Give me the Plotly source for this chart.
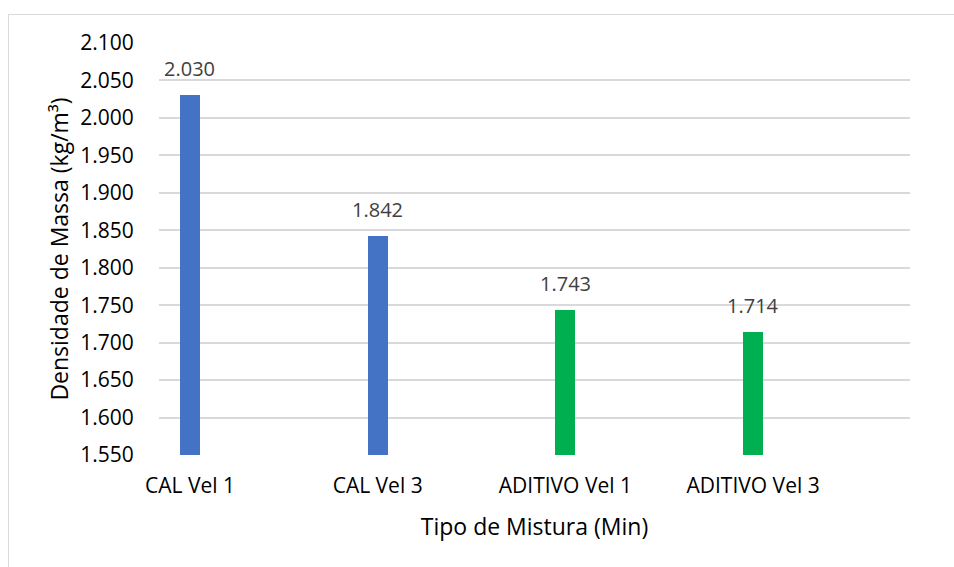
import plotly.graph_objects as go

# Dados do ensaio
categorias = ["CAL Vel 1", "CAL Vel 3", "ADITIVO Vel 1", "ADITIVO Vel 3"]
densidade = [2030, 1842, 1743, 1714]
cores = ["#4472C4", "#4472C4", "#00B050", "#00B050"]
rotulos = ["2.030", "1.842", "1.743", "1.714"]
y_ticks = [1550, 1600, 1650, 1700, 1750, 1800, 1850, 1900, 1950, 2000, 2050, 2100]

W, H = 954, 567
L, R, T, B = 159, 44, 43, 112
pw, ph = W - L - R, H - T - B

FONT = "Open Sans"

fig = go.Figure()
fig.add_trace(go.Bar(
    x=list(range(len(categorias))),
    y=densidade,
    marker=dict(color=cores, line=dict(width=0)),
    width=0.107,
    showlegend=False,
))

# Rótulos de dados acima das barras
for i, (v, t) in enumerate(zip(densidade, rotulos)):
    fig.add_annotation(
        x=i, y=v, text=t, showarrow=False, yanchor="bottom",
        yshift=11, font=dict(family=FONT, size=20, color="#404040"),
    )

def px_x(p):
    return (p - L) / pw

def px_y(p):
    return (H - B - p) / ph

# Moldura da área do gráfico
border = dict(color="#D9D9D9", width=1)
fig.add_shape(type="line", xref="paper", yref="paper",
              x0=px_x(8), x1=px_x(960), y0=px_y(14.5), y1=px_y(14.5), line=border)
fig.add_shape(type="line", xref="paper", yref="paper",
              x0=px_x(8.5), x1=px_x(8.5), y0=px_y(14), y1=px_y(570), line=border)

fig.update_layout(
    width=W, height=H,
    margin=dict(l=L, r=R, t=T, b=B),
    paper_bgcolor="white", plot_bgcolor="white",
    separators=",.",
    font=dict(family=FONT, size=21, color="#000000"),
    bargap=0,
    xaxis=dict(
        range=[-0.165, 3.836],
        tickmode="array",
        tickvals=list(range(len(categorias))),
        ticktext=categorias,
        ticks="outside", ticklen=12, tickcolor="rgba(0,0,0,0)",
        showgrid=False, zeroline=False, showline=False,
        tickfont=dict(family=FONT, size=21, color="#000000"),
        title=dict(text="Tipo de Mistura (Min)", standoff=20,
                   font=dict(family=FONT, size=23, color="#000000")),
    ),
    yaxis=dict(
        range=[1550, 2100],
        tickmode="array",
        tickvals=y_ticks,
        tickformat=",.0f",
        ticks="outside", ticklen=20, tickcolor="rgba(0,0,0,0)",
        showgrid=True, gridcolor="#D9D9D9", gridwidth=2,
        zeroline=False, showline=False,
        tickfont=dict(family=FONT, size=21, color="#000000"),
        title=dict(text="Densidade de Massa (kg/m³)", standoff=5,
                   font=dict(family=FONT, size=23, color="#000000")),
    ),
)

fig.write_html("out.html")
